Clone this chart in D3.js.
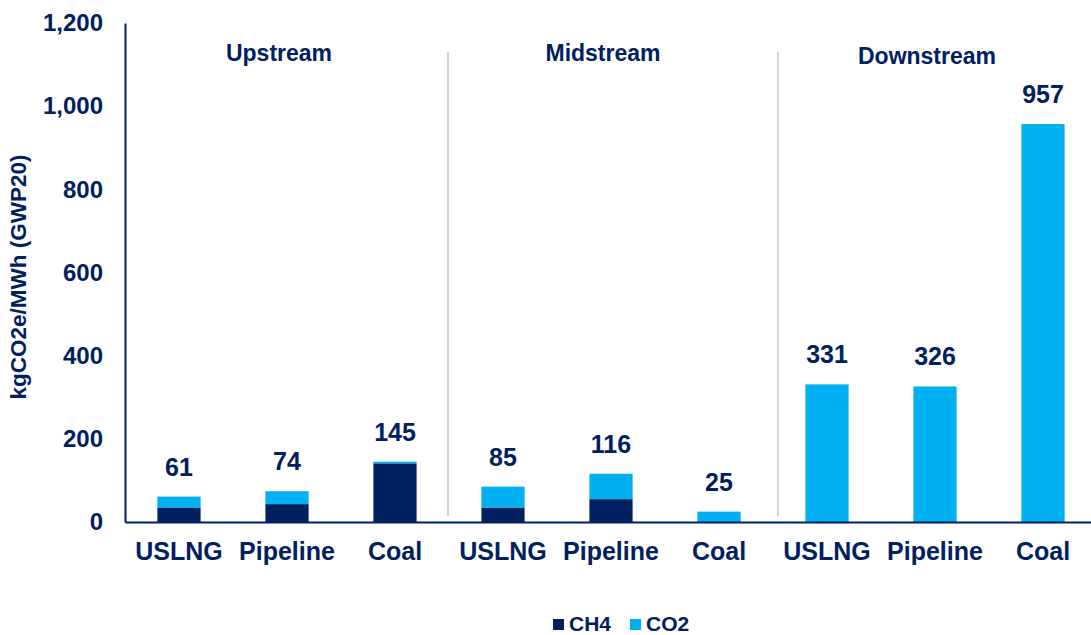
<!DOCTYPE html>
<html>
<head>
<meta charset="utf-8">
<script src="https://cdn.jsdelivr.net/npm/d3@7"></script>
<style>
  html, body { margin: 0; padding: 0; background: #fff; }
  svg { display: block; font-family: Arial, "Liberation Sans", sans-serif; }
</style>
</head>
<body>
<svg id="chart" width="1091" height="635"></svg>
<script>
// Emissions by stage and fuel, kgCO2e/MWh (GWP20)
const stages = ["Upstream", "Midstream", "Downstream"];
const fuels = ["USLNG", "Pipeline", "Coal"];
const ch4 = [35, 43, 141, 35, 55, 0, 0, 0, 0];
const co2 = [26, 31, 4, 50, 61, 25, 331, 326, 957];
const totals = [61, 74, 145, 85, 116, 25, 331, 326, 957];
const yTicks = [0, 200, 400, 600, 800, 1000, 1200];
const seriesNames = ["CH4", "CO2"];

const navy = "#002060";
const cyan = "#00b0f0";
const font = "Arial, 'Liberation Sans', sans-serif";

const svg = d3.select("#chart");
const margin = { left: 125, top: 23, bottom: 522, right: 1097 };

const keys = [];
stages.forEach(s => fuels.forEach(f => keys.push(s + "|" + f)));

const x = d3.scaleBand().domain(keys).range([margin.left, margin.right]).paddingInner(0.6).paddingOuter(0.3);
const y = d3.scaleLinear().domain([0, 1200]).range([margin.bottom, margin.top]);

// stacked data
const rows = keys.map((k, i) => ({ key: k, CH4: ch4[i], CO2: co2[i], total: totals[i] }));
const stack = d3.stack().keys(seriesNames)(rows);
const colors = { CH4: navy, CO2: cyan };

// stage separators, slightly off the band midpoints
const sepOffset = [-1, 5];
[1, 2].forEach((g, i) => {
  const xl = (x(keys[g * 3 - 1]) + x.bandwidth() + x(keys[g * 3])) / 2 + sepOffset[i];
  svg.append("line")
    .attr("x1", xl).attr("x2", xl)
    .attr("y1", 52).attr("y2", 516)
    .attr("stroke", "#a6a6a6").attr("stroke-width", 1);
});

// bars
stack.forEach(layer => {
  svg.append("g").selectAll("rect").data(layer).join("rect")
    .attr("x", d => x(d.data.key))
    .attr("width", x.bandwidth())
    .attr("y", d => y(d[1]))
    .attr("height", d => y(d[0]) - y(d[1]))
    .attr("fill", colors[layer.key]);
});

// value labels
svg.append("g").selectAll("text").data(rows).join("text")
  .attr("x", d => x(d.key) + x.bandwidth() / 2)
  .attr("y", d => y(d.total) - 21)
  .attr("text-anchor", "middle")
  .attr("font-size", 25).attr("font-weight", "bold").attr("fill", navy)
  .text(d => d.total);

// y axis
const yAxis = d3.axisLeft(y).tickValues(yTicks).tickSize(0).tickPadding(22)
  .tickFormat(d3.format(","));
const gy = svg.append("g").attr("transform", `translate(${margin.left},0)`).call(yAxis);
gy.select(".domain").attr("stroke", navy).attr("stroke-width", 2);
gy.selectAll("text").attr("font-size", 24).attr("font-weight", "bold").attr("fill", navy)
  .attr("font-family", font);

// x axis
const xAxis = d3.axisBottom(x).tickSize(0).tickPadding(20).tickFormat(k => k.split("|")[1]);
const gx = svg.append("g").attr("transform", `translate(0,${margin.bottom})`).call(xAxis);
gx.select(".domain").attr("stroke", navy).attr("stroke-width", 2);
gx.selectAll("text").attr("font-size", 25).attr("font-weight", "bold").attr("fill", navy)
  .attr("font-family", font);

// stage titles
const stageY = [61, 61, 64];
stages.forEach((s, i) => {
  const cx = x(keys[i * 3 + 1]) + x.bandwidth() / 2 - 8;
  svg.append("text")
    .attr("x", cx).attr("y", stageY[i])
    .attr("text-anchor", "middle")
    .attr("font-size", 23).attr("font-weight", "bold").attr("fill", navy)
    .text(s);
});

// y axis title
svg.append("text")
  .attr("transform", "translate(26,277) rotate(-90)")
  .attr("text-anchor", "middle")
  .attr("font-size", 22.5).attr("font-weight", "bold").attr("fill", navy)
  .text("kgCO2e/MWh (GWP20)");

// legend
const legendX = [553, 630];
seriesNames.forEach((n, i) => {
  const g = svg.append("g").attr("transform", `translate(${legendX[i]},618)`);
  g.append("rect").attr("x", 0).attr("y", 1).attr("width", 11).attr("height", 11).attr("fill", colors[n]);
  g.append("text").attr("x", 16).attr("y", 13)
    .attr("font-size", 21).attr("font-weight", "bold").attr("fill", navy).text(n);
});
</script>
</body>
</html>
